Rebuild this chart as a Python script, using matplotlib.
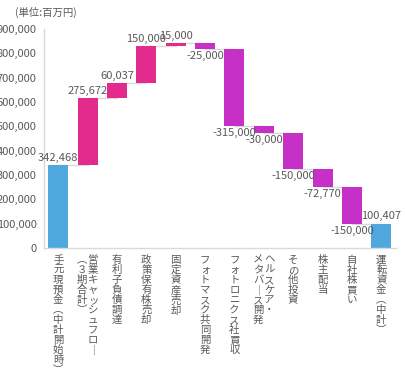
import matplotlib
matplotlib.use('Agg')
import matplotlib.pyplot as plt
import numpy as np

plt.rcParams['font.family'] = ['Noto Sans CJK JP', 'DejaVu Sans']

# 項目と金額 (百万円)
labels = ['手元現預金(中計開始時)', '営業キャッシュフロー\n(３期合計)', '有利子負債調達',
          '政策保有株売却', '固定資産売却', 'フォトマスク共同開発', 'フォトロニクス社買収',
          'ヘルスケア・\nメタバース開発', 'その他投資', '株主配当', '自社株買い', '運転資金(中計)']
values = [342468, 275672, 60037, 150000, 15000, -25000, -315000, -30000,
          -150000, -72770, -150000, 100407]
is_total = [True] + [False] * 10 + [True]
yticks = [0, 100000, 200000, 300000, 400000, 500000, 600000, 700000, 800000, 900000]

BLUE = '#4EA8DE'
PINK = '#E22B8C'
PURPLE = '#C630C6'
GRAY = '#595959'
LINE = '#D9D9D9'

# 棒の下端と上端を計算
bottoms, tops = [], []
run = 0
for v, tot in zip(values, is_total):
    if tot:
        bottoms.append(0)
        tops.append(v)
        run = v
    else:
        bottoms.append(min(run, run + v))
        tops.append(max(run, run + v))
        run += v
levels = [t if (tot or v >= 0) else b for v, tot, b, t in zip(values, is_total, bottoms, tops)]

colors = [BLUE if tot else (PINK if v >= 0 else PURPLE) for v, tot in zip(values, is_total)]

fig = plt.figure(figsize=(4.05, 3.78), dpi=100)
ax = fig.add_axes([43.5 / 405, 1 - 248 / 378, (396 - 43.5) / 405, 219 / 378])

x = np.arange(len(values))
heights = [t - b for b, t in zip(bottoms, tops)]
ax.bar(x, heights, bottom=bottoms, width=0.68, color=colors, zorder=2)

# 接続線
for i in range(len(values) - 1):
    ax.plot([i, i + 1], [levels[i], levels[i]], color=LINE, lw=1, zorder=1)

# データラベル
for i, (v, b, t) in enumerate(zip(values, bottoms, tops)):
    txt = f'{v:,}'
    if v >= 0:
        ax.annotate(txt, (i, t), xytext=(0, 1.5), textcoords='offset points',
                    ha='center', va='bottom', fontsize=8, color=GRAY)
    else:
        ax.annotate(txt, (i, b), xytext=(0, -1.5), textcoords='offset points',
                    ha='center', va='top', fontsize=8, color=GRAY)

ax.set_xlim(-0.5, len(values) - 0.5)
ax.set_ylim(0, 900000)
ax.set_yticks(yticks)
ax.set_yticklabels([f'{t:,}' for t in yticks])
ax.tick_params(axis='y', length=0, pad=5, labelsize=8, labelcolor=GRAY)
ax.set_xticks([])
for s in ['top', 'right']:
    ax.spines[s].set_visible(False)
for s in ['left', 'bottom']:
    ax.spines[s].set_color(LINE)
    ax.spines[s].set_linewidth(1)

# 縦書きラベル
vert_map = {'(': '︵', ')': '︶', 'ー': '｜'}
for i, lab in enumerate(labels):
    cols = lab.split('\n')
    n = len(cols)
    for j, col in enumerate(cols):
        dx = ((n - 1) / 2 - j) * 11 * 0.72
        text = '\n'.join(vert_map.get(c, c) for c in col)
        ax.annotate(text, (i, 0), xycoords=('data', 'axes fraction'),
                    xytext=(dx, -5), textcoords='offset points',
                    ha='center', va='top', fontsize=7.5, linespacing=1.0,
                    color=GRAY, annotation_clip=False)

fig.text(15 / 405, 1 - 12 / 378, '(単位:百万円)', fontsize=7.5, color=GRAY, va='center')

fig.savefig('out.png', dpi=100)
